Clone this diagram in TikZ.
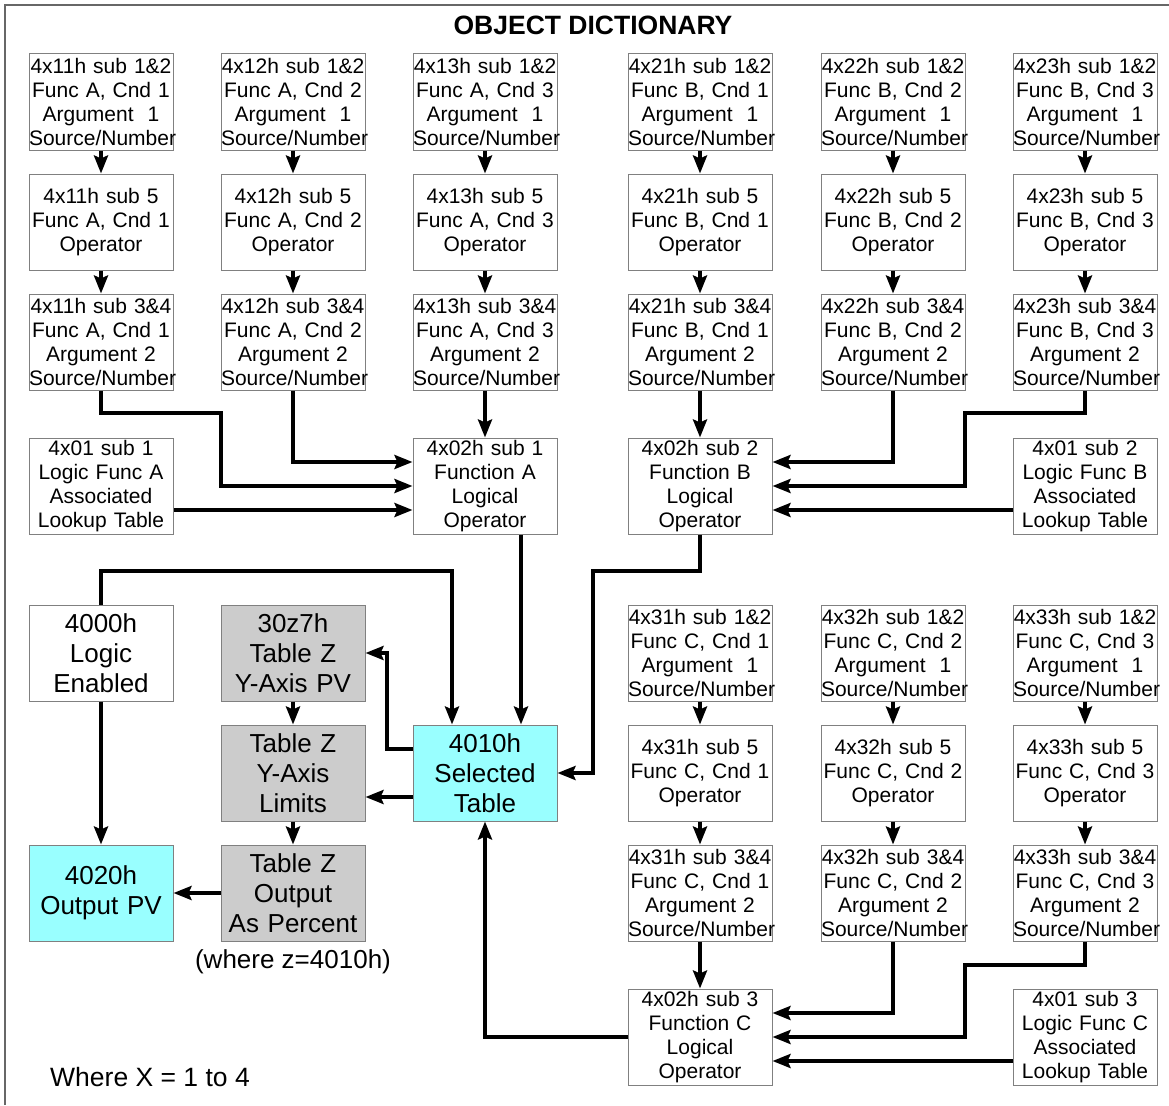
\documentclass[tikz,border=0pt]{standalone}
\usepackage{fontspec}
\setmainfont{Liberation Sans}
\usetikzlibrary{arrows.meta}
\definecolor{boxgrey}{RGB}{204,204,204}
\definecolor{boxcyan}{RGB}{153,255,255}
\definecolor{edgegrey}{RGB}{128,128,128}
\tikzset{
	odbox/.style={draw=edgegrey, fill=white, line width=1pt, text width=144pt, inner sep=0pt,
		minimum height=96pt, align=center, font=\fontsize{21}{24}\selectfont},
	bigbox/.style={odbox, font=\fontsize{26}{30}\selectfont},
	greybox/.style={bigbox, fill=boxgrey},
	cyanbox/.style={bigbox, fill=boxcyan},
	wire/.style={line width=4pt},
	link/.style={wire, -{Stealth[length=18pt,width=14pt,inset=3pt]}}
}
\begin{document}
\begin{tikzpicture}[x=1pt,y=-1pt]
	\useasboundingbox (0,0) rectangle (1169,1105);
	\draw[edgegrey!80!black, line width=1.2pt] (5,1105) -- (5,5) -- (1169,5);
	\node[font=\bfseries\fontsize{26.5}{30}\selectfont] (title) at (593,25) {OBJECT DICTIONARY};
	% function A conditions
	\node[odbox] (c11arg1) at (101,102) {4x11h sub 1\&2\\Func A, Cnd 1\\Argument\ \ 1\\Source/Number};
	\node[odbox] (c11op) at (101,222) {4x11h sub 5\\Func A, Cnd 1\\Operator};
	\node[odbox] (c11arg2) at (101,342) {4x11h sub 3\&4\\Func A, Cnd 1\\Argument 2\\Source/Number};
	\node[odbox] (c12arg1) at (293,102) {4x12h sub 1\&2\\Func A, Cnd 2\\Argument\ \ 1\\Source/Number};
	\node[odbox] (c12op) at (293,222) {4x12h sub 5\\Func A, Cnd 2\\Operator};
	\node[odbox] (c12arg2) at (293,342) {4x12h sub 3\&4\\Func A, Cnd 2\\Argument 2\\Source/Number};
	\node[odbox] (c13arg1) at (485,102) {4x13h sub 1\&2\\Func A, Cnd 3\\Argument\ \ 1\\Source/Number};
	\node[odbox] (c13op) at (485,222) {4x13h sub 5\\Func A, Cnd 3\\Operator};
	\node[odbox] (c13arg2) at (485,342) {4x13h sub 3\&4\\Func A, Cnd 3\\Argument 2\\Source/Number};
	% function B conditions
	\node[odbox] (c21arg1) at (700,102) {4x21h sub 1\&2\\Func B, Cnd 1\\Argument\ \ 1\\Source/Number};
	\node[odbox] (c21op) at (700,222) {4x21h sub 5\\Func B, Cnd 1\\Operator};
	\node[odbox] (c21arg2) at (700,342) {4x21h sub 3\&4\\Func B, Cnd 1\\Argument 2\\Source/Number};
	\node[odbox] (c22arg1) at (893,102) {4x22h sub 1\&2\\Func B, Cnd 2\\Argument\ \ 1\\Source/Number};
	\node[odbox] (c22op) at (893,222) {4x22h sub 5\\Func B, Cnd 2\\Operator};
	\node[odbox] (c22arg2) at (893,342) {4x22h sub 3\&4\\Func B, Cnd 2\\Argument 2\\Source/Number};
	\node[odbox] (c23arg1) at (1085,102) {4x23h sub 1\&2\\Func B, Cnd 3\\Argument\ \ 1\\Source/Number};
	\node[odbox] (c23op) at (1085,222) {4x23h sub 5\\Func B, Cnd 3\\Operator};
	\node[odbox] (c23arg2) at (1085,342) {4x23h sub 3\&4\\Func B, Cnd 3\\Argument 2\\Source/Number};
	% function C conditions
	\node[odbox] (c31arg1) at (700,653) {4x31h sub 1\&2\\Func C, Cnd 1\\Argument\ \ 1\\Source/Number};
	\node[odbox] (c31op) at (700,773) {4x31h sub 5\\Func C, Cnd 1\\Operator};
	\node[odbox] (c31arg2) at (700,893) {4x31h sub 3\&4\\Func C, Cnd 1\\Argument 2\\Source/Number};
	\node[odbox] (c32arg1) at (893,653) {4x32h sub 1\&2\\Func C, Cnd 2\\Argument\ \ 1\\Source/Number};
	\node[odbox] (c32op) at (893,773) {4x32h sub 5\\Func C, Cnd 2\\Operator};
	\node[odbox] (c32arg2) at (893,893) {4x32h sub 3\&4\\Func C, Cnd 2\\Argument 2\\Source/Number};
	\node[odbox] (c33arg1) at (1085,653) {4x33h sub 1\&2\\Func C, Cnd 3\\Argument\ \ 1\\Source/Number};
	\node[odbox] (c33op) at (1085,773) {4x33h sub 5\\Func C, Cnd 3\\Operator};
	\node[odbox] (c33arg2) at (1085,893) {4x33h sub 3\&4\\Func C, Cnd 3\\Argument 2\\Source/Number};
	% logical operators and lookup tables
	\node[odbox] (lutA) at (101,486) {4x01 sub 1\\Logic Func A\\Associated\\Lookup Table};
	\node[odbox] (funcA) at (485,486) {4x02h sub 1\\Function A\\Logical\\Operator};
	\node[odbox] (funcB) at (700,486) {4x02h sub 2\\Function B\\Logical\\Operator};
	\node[odbox] (lutB) at (1085,486) {4x01 sub 2\\Logic Func B\\Associated\\Lookup Table};
	\node[odbox] (funcC) at (700,1037) {4x02h sub 3\\Function C\\Logical\\Operator};
	\node[odbox] (lutC) at (1085,1037) {4x01 sub 3\\Logic Func C\\Associated\\Lookup Table};
	% table and output
	\node[bigbox] (logicEn) at (101,653) {4000h\\Logic\\Enabled};
	\node[greybox] (tblPV) at (293,653) {30z7h\\Table Z\\Y-Axis PV};
	\node[greybox] (tblLim) at (293,773) {Table Z\\Y-Axis\\Limits};
	\node[greybox] (tblPct) at (293,893) {Table Z\\Output\\As Percent};
	\node[cyanbox] (selTable) at (485,773) {4010h\\Selected\\Table};
	\node[cyanbox] (outPV) at (101,893) {4020h\\Output PV};
	\node[font=\fontsize{26}{30}\selectfont] (zNote) at (293,962) {(where z=4010h)};
	\node[font=\fontsize{26.5}{30}\selectfont, anchor=west, inner sep=0pt] (xNote) at (50,1077) {Where X = 1 to 4};
	% column arrows
	\draw[link] (c11arg1) -- (c11op);
	\draw[link] (c11op) -- (c11arg2);
	\draw[link] (c12arg1) -- (c12op);
	\draw[link] (c12op) -- (c12arg2);
	\draw[link] (c13arg1) -- (c13op);
	\draw[link] (c13op) -- (c13arg2);
	\draw[link] (c21arg1) -- (c21op);
	\draw[link] (c21op) -- (c21arg2);
	\draw[link] (c22arg1) -- (c22op);
	\draw[link] (c22op) -- (c22arg2);
	\draw[link] (c23arg1) -- (c23op);
	\draw[link] (c23op) -- (c23arg2);
	\draw[link] (c31arg1) -- (c31op);
	\draw[link] (c31op) -- (c31arg2);
	\draw[link] (c32arg1) -- (c32op);
	\draw[link] (c32op) -- (c32arg2);
	\draw[link] (c33arg1) -- (c33op);
	\draw[link] (c33op) -- (c33arg2);
	% into function A
	\draw[link] (c13arg2) -- (funcA);
	\draw[link] (c12arg2.south) |- ([yshift=24pt]funcA.west);
	\draw[link] (c11arg2.south) |- (221,413) |- (funcA.west);
	\draw[link] ([yshift=-24pt]lutA.east) -- ([yshift=-24pt]funcA.west);
	% into function B
	\draw[link] (c21arg2) -- (funcB);
	\draw[link] (c22arg2.south) |- ([yshift=24pt]funcB.east);
	\draw[link] (c23arg2.south) |- (965,413) |- (funcB.east);
	\draw[link] ([yshift=-24pt]lutB.west) -- ([yshift=-24pt]funcB.east);
	% into function C
	\draw[link] (c31arg2) -- (funcC);
	\draw[link] (c32arg2.south) |- ([yshift=24pt]funcC.east);
	\draw[link] (c33arg2.south) |- (965,965) |- (funcC.east);
	\draw[link] ([yshift=-24pt]lutC.west) -- ([yshift=-24pt]funcC.east);
	% selected table
	\draw[link] ([xshift=36pt]funcA.south) -- ([xshift=36pt]selTable.north);
	\draw[link] (logicEn.north) |- (452,571) -- ([xshift=-33pt]selTable.north);
	\draw[link] (funcB.south) |- (593,571) |- (selTable.east);
	\draw[link] (funcC.west) -| (selTable.south);
	\draw[link] ([yshift=24pt]selTable.west) -- ++(-26,0) |- (tblPV.east);
	\draw[link] ([yshift=-24pt]selTable.west) -- ([yshift=-24pt]tblLim.east);
	\draw[link] (tblPV) -- (tblLim);
	\draw[link] (tblLim) -- (tblPct);
	\draw[link] (tblPct) -- (outPV);
	\draw[link] (logicEn) -- (outPV);
\end{tikzpicture}
\end{document}
